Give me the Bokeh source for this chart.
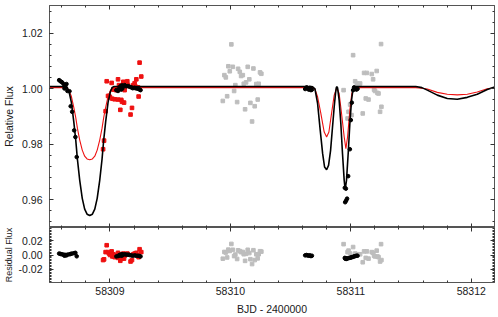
from bokeh.plotting import figure
from bokeh.models import Range1d, LinearAxis, SingleIntervalTicker, PrintfTickFormatter
from bokeh.layouts import column
from bokeh.embed import file_html
from bokeh.resources import INLINE

# ---------------- data ----------------
# black photometry (circles)
black_x = [58308.578, 58308.589, 58308.600, 58308.614, 58308.625, 58308.639, 58308.622, 58308.630,
           58308.647, 58308.664, 58308.674, 58308.686, 58308.703, 58308.713, 58308.724,
           58309.053, 58309.067, 58309.072, 58309.080, 58309.089, 58309.100, 58309.109, 58309.094,
           58309.103, 58309.122, 58309.136, 58309.150, 58309.163, 58309.177, 58309.189, 58309.205,
           58309.219, 58309.233, 58309.246, 58309.254,
           58310.621, 58310.633, 58310.641, 58310.650, 58310.660, 58310.669, 58310.677,
           58310.950, 58310.959, 58310.953, 58310.961, 58310.969, 58310.978, 58310.992, 58311.000,
           58311.008, 58311.019, 58311.027, 58311.036, 58311.047, 58311.056]
black_y = [1.0031, 1.0027, 1.0024, 1.0018, 1.0012, 1.0017, 1.0001, 1.0005,
           0.9992, 0.9991, 0.9937, 0.9917, 0.9850, 0.9826, 0.9754,
           0.9995, 0.9992, 0.9997, 1.0005, 1.0010, 1.0012, 1.0009, 0.9997,
           1.0001, 1.0013, 1.0009, 1.0010, 1.0007, 1.0005, 1.0002, 1.0003,
           1.0001, 1.0000, 0.9997, 0.9995,
           0.9999, 1.0005, 1.0001, 0.9997, 1.0003, 0.9995, 0.9997,
           0.9643, 0.9640, 0.9591, 0.9597, 0.9604, 0.9685, 0.9782, 0.9887,
           0.9950, 0.9995, 1.0005, 1.0001, 0.9997, 1.0000]
black_res = [0.0020, 0.0015, 0.0010, 0.0005, 0.0000, -0.0005, -0.0010, 0.0000,
             0.0005, 0.0010, 0.0015, 0.0020, 0.0025, 0.0030, -0.0018,
             -0.0020, -0.0015, -0.0010, 0.0000, 0.0005, 0.0010, 0.0005, -0.0010,
             -0.0005, 0.0010, 0.0005, 0.0005, 0.0000, -0.0005, -0.0010, -0.0005,
             -0.0010, -0.0010, -0.0015, -0.0020,
             -0.0005, 0.0000, -0.0005, -0.0010, -0.0005, -0.0015, -0.0010,
             -0.0040, -0.0045, -0.0050, -0.0055, -0.0050, -0.0045, -0.0040, -0.0035,
             -0.0030, -0.0025, -0.0020, -0.0015, -0.0010, -0.0010]

# red photometry (squares)
red_x = [58308.943, 58308.951, 58308.964, 58308.973, 58308.984, 58308.993, 58309.001, 58309.014,
         58309.020, 58309.028, 58309.039, 58309.051, 58309.067, 58309.067, 58309.075, 58309.086,
         58309.094, 58309.100, 58309.111, 58309.117, 58309.122, 58309.144, 58309.150, 58309.171,
         58309.183, 58309.194, 58309.205, 58309.219, 58309.238, 58309.246, 58309.260, 58309.216,
         58309.233]
red_y = [0.9782, 0.9813, 0.9919, 1.0027, 0.9974, 0.9974, 0.9969, 1.0021,
         0.9964, 0.9997, 0.9962, 0.9995, 1.0034, 0.9961, 1.0013, 0.9924,
         0.9960, 0.9953, 1.0025, 0.9950, 0.9995, 1.0027, 1.0013, 0.9907,
         0.9931, 1.0013, 1.0020, 1.0034, 0.9972, 1.0094, 1.0044, 1.0007,
         1.0005]
red_res = [-0.007, -0.006, 0.004, 0.0135, 0.004, 0.002, 0.000, 0.005,
           -0.002, 0.001, -0.003, 0.000, 0.003, -0.004, 0.001, -0.008,
           -0.004, -0.005, 0.002, -0.005, -0.001, 0.002, 0.001, -0.009,
           -0.007, 0.001, 0.002, 0.003, -0.003, 0.008, 0.004, 0.000,
           0.000]

# grey photometry (squares)
grey_x = [58310.008, 58309.983, 58310.020, 58309.995, 58310.064, 58310.078, 58309.950, 58309.962,
          58310.089, 58310.103, 58310.144, 58310.191, 58310.246, 58310.257, 58310.157, 58310.130,
          58310.111, 58310.041, 58310.215, 58310.235, 58310.031, 58309.973, 58309.937, 58310.056,
          58310.166, 58310.227, 58310.202, 58310.122, 58310.180,
          58310.940, 58310.973, 58310.981, 58310.994, 58311.006, 58311.019, 58311.036, 58311.050,
          58311.060, 58311.077, 58311.099, 58311.110, 58311.133, 58311.124, 58311.147, 58311.174,
          58311.185, 58311.193, 58311.201, 58311.215, 58311.221, 58311.230, 58311.243, 58311.254,
          58311.251]
grey_y = [1.0160, 1.0081, 1.0079, 1.0063, 1.0072, 1.0061, 1.0049, 1.0041,
          1.0046, 1.0049, 1.0079, 1.0073, 1.0059, 1.0054, 1.0034, 1.0023,
          1.0018, 1.0013, 1.0017, 1.0018, 0.9992, 0.9973, 0.9956, 0.9952,
          0.9949, 0.9961, 0.9937, 0.9926, 0.9882,
          0.9995, 0.9893, 0.9917, 0.9943, 0.9905, 1.0121, 1.0027, 1.0019,
          1.0017, 1.0019, 0.9911, 1.0057, 1.0057, 0.9965, 0.9961, 1.0053,
          1.0034, 0.9997, 0.9992, 1.0064, 0.9985, 0.9983, 0.9917, 0.9935,
          1.0161]
grey_res = [0.0153, 0.0074, 0.0072, 0.0056, 0.0065, 0.0054, 0.0042, 0.0034,
            0.0039, 0.0042, 0.0072, 0.0066, 0.0052, 0.0047, 0.0027, 0.0016,
            0.0011, 0.0006, 0.0010, 0.0011, -0.0015, -0.0034, -0.0051, -0.0055,
            -0.0058, -0.0046, -0.0070, -0.0081, -0.0125,
            0.015, 0.004, 0.006, 0.002, -0.003, 0.011, 0.002, 0.001,
            0.001, 0.001, -0.010, 0.005, 0.005, -0.004, -0.005, 0.004,
            0.003, -0.001, -0.002, 0.006, -0.002, -0.003, -0.009, -0.007,
            0.015]

# model curves
model_black_x = [58308.500, 58308.630, 58308.645, 58308.660, 58308.680, 58308.700, 58308.716, 58308.730,
                 58308.749, 58308.770, 58308.790, 58308.810, 58308.832, 58308.854, 58308.874, 58308.894,
                 58308.915, 58308.934, 58308.948, 58308.964, 58308.984, 58309.004, 58309.019, 58309.034,
                 58310.670, 58310.683, 58310.702, 58310.724, 58310.746, 58310.766, 58310.782, 58310.799,
                 58310.815, 58310.832, 58310.848, 58310.862, 58310.873, 58310.879, 58310.884, 58310.890,
                 58310.903, 58310.917, 58310.931, 58310.945, 58310.953, 58310.964, 58310.978, 58310.992,
                 58311.006, 58311.019, 58311.033,
                 58311.539, 58311.590, 58311.635, 58311.718, 58311.801, 58311.884, 58311.967, 58312.050,
                 58312.133, 58312.201]
model_black_y = [1.0008, 1.0008, 1.0005, 0.9990, 0.9950, 0.9880, 0.9815, 0.9745,
                 0.9670, 0.9605, 0.9566, 0.9548, 0.9543, 0.9548, 0.9566, 0.9605,
                 0.9670, 0.9745, 0.9815, 0.9880, 0.9950, 0.9990, 1.0005, 1.0008,
                 1.0008, 1.0007, 1.0000, 0.9947, 0.9850, 0.9766, 0.9718, 0.9708,
                 0.9724, 0.9778, 0.9862, 0.9935, 0.9983, 1.0003, 1.0008, 1.0003,
                 0.9959, 0.9875, 0.9766, 0.9670, 0.9636, 0.9670, 0.9766, 0.9875,
                 0.9959, 1.0001, 1.0008,
                 1.0008, 1.0004, 0.9995, 0.9977, 0.9965, 0.9962, 0.9969, 0.9980,
                 0.9997, 1.0007]
model_red_x = [58308.500, 58308.630, 58308.645, 58308.660, 58308.680, 58308.700, 58308.716, 58308.730,
               58308.749, 58308.770, 58308.790, 58308.810, 58308.832, 58308.854, 58308.874, 58308.894,
               58308.915, 58308.934, 58308.948, 58308.964, 58308.984, 58309.004, 58309.019, 58309.034,
               58310.683, 58310.702, 58310.724, 58310.751, 58310.779, 58310.799, 58310.818, 58310.840,
               58310.862, 58310.884, 58310.903, 58310.923, 58310.945, 58310.959, 58310.973, 58310.992,
               58311.008, 58311.027,
               58311.539, 58311.590, 58311.635, 58311.718, 58311.801, 58311.884, 58311.967, 58312.050,
               58312.133, 58312.201]
model_red_y = [1.0004, 1.0004, 1.0002, 0.9994, 0.9972, 0.9932, 0.9896, 0.9857,
               0.9815, 0.9779, 0.9757, 0.9747, 0.9744, 0.9747, 0.9757, 0.9779,
               0.9815, 0.9857, 0.9896, 0.9932, 0.9972, 0.9994, 1.0002, 1.0004,
               1.0004, 0.9998, 0.9971, 0.9911, 0.9844, 0.9826, 0.9844, 0.9911,
               0.9977, 1.0004, 0.9983, 0.9911, 0.9826, 0.9784, 0.9826, 0.9923,
               0.9983, 1.0004,
               1.0004, 1.0002, 0.9999, 0.9987, 0.9980, 0.9978, 0.9980, 0.9988,
               1.0000, 1.0004]

x_start, x_end = 58308.498, 58312.193
main_y = (0.95, 1.03)
res_y = (-0.038, 0.038)

FONT = "Liberation Sans"
FS = "10.5px"
TXT = "#1a1a1a"
FRAME = "#555555"
GREY = "#bdbdbd"
RED = "#ee1111"
MS = 3.6

x_range = Range1d(x_start, x_end)


def make_axis(ticker, fmt, labels=True):
    ax = LinearAxis(ticker=ticker, formatter=fmt)
    ax.axis_line_color = FRAME
    ax.major_tick_line_color = "#333333"
    ax.minor_tick_line_color = "#333333"
    ax.major_tick_in = 4
    ax.major_tick_out = 0
    ax.minor_tick_in = 2
    ax.minor_tick_out = 0
    ax.major_label_text_font = FONT
    ax.major_label_text_color = TXT
    ax.axis_label_text_font = FONT
    ax.axis_label_text_font_style = "normal"
    ax.axis_label_text_color = TXT
    ax.axis_label_text_font_size = FS
    if labels:
        ax.major_label_text_font_size = FS
    else:
        ax.major_label_text_font_size = "0px"
        ax.major_label_text_color = None
        ax.major_label_standoff = 0
    return ax


def xt():
    return SingleIntervalTicker(interval=1, num_minor_ticks=5)


def yt_main():
    return SingleIntervalTicker(interval=0.02, num_minor_ticks=5)


def yt_res():
    return SingleIntervalTicker(interval=0.02, num_minor_ticks=10)


xf = PrintfTickFormatter(format="%d")
yf = PrintfTickFormatter(format="%.2f")

W = 495
LB = 48

# ---------------- main panel ----------------
p = figure(width=W, height=227, x_range=x_range, y_range=Range1d(*main_y),
           output_backend="svg", toolbar_location=None,
           x_axis_location=None, y_axis_location=None,
           min_border_left=LB, min_border_right=1, min_border_top=5, min_border_bottom=0)
p.grid.visible = False
p.outline_line_color = FRAME
p.background_fill_color = "white"
p.border_fill_color = "white"

yl = make_axis(yt_main(), yf)
yl.axis_label = "Relative Flux"
yl.major_label_standoff = 7
yl.axis_label_standoff = 4
p.add_layout(yl, "left")
p.add_layout(make_axis(yt_main(), yf, False), "right")
p.add_layout(make_axis(xt(), xf, False), "above")
p.add_layout(make_axis(xt(), xf, False), "below")

p.scatter(grey_x, grey_y, marker="square", size=MS, color=GREY)
p.scatter(red_x, red_y, marker="square", size=MS, color=RED)
p.line(model_red_x, model_red_y, line_color=RED, line_width=1.1)
p.line(model_black_x, model_black_y, line_color="black", line_width=1.6)
p.scatter(black_x, black_y, marker="circle", size=MS, color="black")

# ---------------- residual panel ----------------
r = figure(width=W, height=90, x_range=x_range, y_range=Range1d(*res_y),
           output_backend="svg", toolbar_location=None,
           x_axis_location=None, y_axis_location=None,
           min_border_left=LB, min_border_right=1, min_border_top=0, min_border_bottom=0)
r.grid.visible = False
r.outline_line_color = FRAME
r.background_fill_color = "white"
r.border_fill_color = "white"

ryl = make_axis(yt_res(), yf)
ryl.axis_label = "Residual Flux"
ryl.axis_label_text_font_size = "9px"
ryl.major_label_standoff = 7
ryl.axis_label_standoff = 2
r.add_layout(ryl, "left")
r.add_layout(make_axis(yt_res(), yf, False), "right")
r.add_layout(make_axis(xt(), xf, False), "above")
rxb = make_axis(xt(), xf)
rxb.axis_label = "BJD - 2400000"
rxb.major_label_standoff = 4
rxb.axis_label_standoff = 5
r.add_layout(rxb, "below")

r.scatter(grey_x, grey_res, marker="square", size=MS, color=GREY)
r.scatter(red_x, red_res, marker="square", size=MS, color=RED)
r.scatter(black_x, black_res, marker="circle", size=MS, color="black")

layout = column(p, r, spacing=0)

open("out.html", "w").write(file_html(layout, INLINE))
